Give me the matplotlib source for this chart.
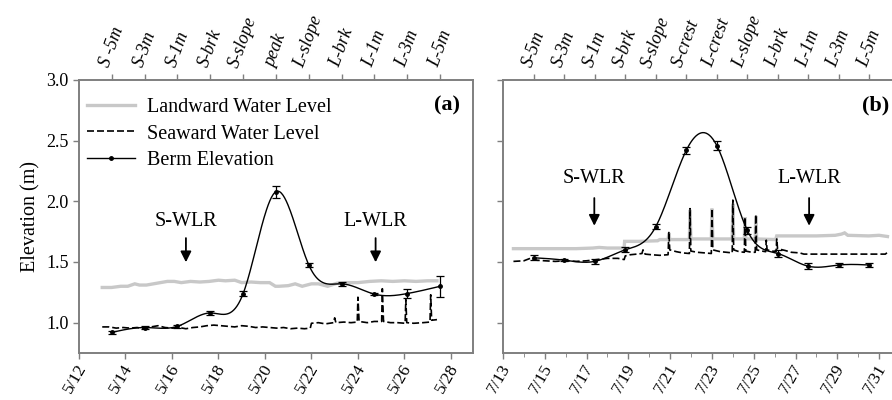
import numpy as np
import matplotlib
matplotlib.use("Agg")
import matplotlib.pyplot as plt
from matplotlib.transforms import ScaledTranslation

plt.rcParams['font.family'] = ['Liberation Serif', 'DejaVu Serif']

# ---------- data ----------
# profile positions (top axis) and berm elevation
pos_a = ["S -5m", "S-3m", "S-1m", "S-brk", "S-slope", "peak", "L-slope", "L-brk", "L-1m", "L-3m", "L-5m"]
berm_a = [0.92, 0.96, 0.97, 1.08, 1.24, 2.08, 1.475, 1.32, 1.235, 1.24, 1.30]
berm_a_err = [0.01, 0.01, 0.01, 0.015, 0.02, 0.05, 0.015, 0.015, 0.01, 0.04, 0.085]

pos_b = ["S-5m", "S-3m", "S-1m", "S-brk", "S-slope", "S-crest", "L-crest", "L-slope", "L-brk", "L-1m", "L-3m", "L-5m"]
berm_b = [1.535, 1.515, 1.505, 1.60, 1.79, 2.42, 2.46, 1.76, 1.57, 1.465, 1.475, 1.475]
berm_b_err = [0.02, 0.01, 0.02, 0.02, 0.02, 0.03, 0.04, 0.03, 0.03, 0.025, 0.015, 0.02]

# water levels, panel (a), day of May
land_a_t = [13.0, 13.4, 13.8, 14.1, 14.4, 14.6, 14.9, 15.2, 15.5, 15.8, 16.1, 16.4, 16.8, 17.2,
            17.6, 18.0, 18.3, 18.7, 19.0, 19.4, 19.8, 20.2, 20.45, 20.6, 21.0, 21.3, 21.6, 22.0,
            22.3, 22.7, 23.1, 23.5, 24.0, 24.5, 25.0, 25.5, 26.0, 26.5, 27.0, 27.4]
land_a_v = [1.29, 1.29, 1.30, 1.30, 1.32, 1.31, 1.31, 1.32, 1.33, 1.34, 1.34, 1.33, 1.34, 1.335,
            1.34, 1.35, 1.345, 1.35, 1.33, 1.335, 1.33, 1.33, 1.30, 1.30, 1.305, 1.32, 1.30, 1.32,
            1.32, 1.30, 1.325, 1.33, 1.33, 1.34, 1.345, 1.34, 1.345, 1.34, 1.345, 1.345]

sea_a_t = [13.0, 13.3, 13.6, 13.9, 14.2, 14.5, 14.8, 15.1, 15.4, 15.7, 16.0, 16.3, 16.6, 16.9,
           17.2, 17.5, 17.8, 18.1, 18.4, 18.7, 19.0, 19.3, 19.6, 19.9, 20.2, 20.5, 20.8, 21.1,
           21.4, 21.7, 21.95, 22.0, 22.3, 22.6, 22.95, 23.0, 23.05, 23.4, 23.7, 23.97, 24.0, 24.05,
           24.4, 24.7, 25.02, 25.05, 25.1, 25.4, 25.7, 26.03, 26.06, 26.1, 26.4, 26.8, 27.1, 27.13,
           27.17, 27.4]
sea_a_v = [0.965, 0.965, 0.955, 0.96, 0.955, 0.96, 0.95, 0.965, 0.975, 0.96, 0.955, 0.96, 0.95, 0.96,
           0.965, 0.975, 0.98, 0.975, 0.97, 0.965, 0.975, 0.97, 0.96, 0.965, 0.96, 0.955, 0.96, 0.95,
           0.955, 0.95, 0.955, 0.995, 1.0, 0.99, 1.0, 1.04, 1.0, 1.005, 1.0, 1.005, 1.21, 1.01,
           1.0, 1.01, 1.01, 1.28, 1.01, 1.0, 1.0, 0.995, 1.19, 1.0, 0.995, 1.0, 1.005, 1.23,
           1.02, 1.025]

# water levels, panel (b), day of July
land_b_t = [13.5, 15.0, 16.5, 17.3, 17.6, 18.0, 18.8, 18.82, 19.5, 20.4, 20.5, 20.9, 20.94, 20.98,
            21.92, 21.95, 21.99, 22.97, 23.0, 23.04, 23.97, 24.0, 24.04, 24.55, 24.58, 24.62, 25.07,
            25.1, 25.14, 26.05, 26.1, 27.0, 28.0, 28.9, 29.2, 29.35, 29.5, 30.5, 31.0, 31.4]
land_b_v = [1.61, 1.61, 1.61, 1.615, 1.62, 1.615, 1.615, 1.67, 1.67, 1.675, 1.685, 1.685, 1.74, 1.685,
            1.685, 1.93, 1.69, 1.69, 1.94, 1.69, 1.69, 1.98, 1.69, 1.69, 1.87, 1.69, 1.69,
            1.88, 1.69, 1.685, 1.715, 1.715, 1.715, 1.72, 1.73, 1.74, 1.72, 1.715, 1.72, 1.71]

sea_b_t = [13.5, 14.0, 14.3, 14.6, 15.0, 15.5, 16.0, 16.5, 17.0, 17.5, 18.0, 18.5, 18.8, 18.85,
           19.1, 19.4, 19.65, 19.7, 19.8, 20.1, 20.5, 20.9, 20.94, 20.98, 21.3, 21.6, 21.92, 21.95,
           21.99, 22.3, 22.65, 22.97, 23.0, 23.04, 23.4, 23.7, 23.97, 24.0, 24.04, 24.3, 24.55, 24.58,
           24.62, 24.9, 25.07, 25.1, 25.14, 25.4, 25.57, 25.6, 25.64, 25.9, 26.07, 26.1, 26.14, 26.5,
           26.8, 27.2, 27.4, 28.0, 29.0, 30.0, 31.0, 31.3, 31.4]
sea_b_v = [1.505, 1.51, 1.53, 1.515, 1.51, 1.505, 1.51, 1.505, 1.51, 1.52, 1.53, 1.53, 1.52, 1.55,
           1.56, 1.565, 1.57, 1.60, 1.565, 1.56, 1.555, 1.56, 1.75, 1.60, 1.585, 1.575, 1.57, 1.94,
           1.59, 1.58, 1.575, 1.57, 1.94, 1.60, 1.585, 1.58, 1.575, 2.01, 1.60, 1.585, 1.58, 1.87,
           1.59, 1.58, 1.58, 1.89, 1.60, 1.59, 1.585, 1.68, 1.60, 1.59, 1.585, 1.69, 1.61, 1.595,
           1.58, 1.575, 1.565, 1.565, 1.565, 1.565, 1.565, 1.565, 1.58]

date_ticks_a = [12, 14, 16, 18, 20, 22, 24, 26, 28]
date_ticks_b = [13, 15, 17, 19, 21, 23, 25, 27, 29, 31]

GRAY = "#7f7f7f"
LAND = "#c8c8c8"
DASH = (0, (4.2, 1.8))


def natural_spline(x, y, n=400):
    x = np.asarray(x, float); y = np.asarray(y, float)
    m = len(x); h = np.diff(x)
    A = np.zeros((m, m)); r = np.zeros(m)
    A[0, 0] = A[-1, -1] = 1
    for i in range(1, m - 1):
        A[i, i - 1] = h[i - 1]; A[i, i] = 2 * (h[i - 1] + h[i]); A[i, i + 1] = h[i]
        r[i] = 6 * ((y[i + 1] - y[i]) / h[i] - (y[i] - y[i - 1]) / h[i - 1])
    M = np.linalg.solve(A, r)
    xs = np.linspace(x[0], x[-1], n)
    k = np.clip(np.searchsorted(x, xs) - 1, 0, m - 2)
    hk = h[k]; a = x[k + 1] - xs; b = xs - x[k]
    ys = (M[k] * a ** 3 + M[k + 1] * b ** 3) / (6 * hk) \
        + (y[k] / hk - M[k] * hk / 6) * a + (y[k + 1] / hk - M[k + 1] * hk / 6) * b
    return xs, ys


def style(ax):
    for s in ax.spines.values():
        s.set_color(GRAY); s.set_linewidth(1.2)
    ax.tick_params(colors=GRAY, labelcolor="black", direction="out", length=4, width=1.0, labelsize=13)


fig = plt.figure(figsize=(8.92, 4.0), dpi=100)
ax_a = fig.add_axes([79 / 892, 0.1175, 394 / 892, 0.6825])
ax_b = fig.add_axes([503 / 892, 0.1175, 397 / 892, 0.6825])

panels = [
    (ax_a, land_a_t, land_a_v, sea_a_t, sea_a_v, pos_a, berm_a, berm_a_err, (12, 28.95), date_ticks_a, "5/", 12, "(a)",
     0.967, (16.6, 24.76), (1.836, 1.72, 1.475)),
    (ax_b, land_b_t, land_b_v, sea_b_t, sea_b_v, pos_b, berm_b, berm_b_err, (13, 32.0), date_ticks_b, "7/", 13, "(b)",
     0.972, (17.37, 27.65), (2.185, 2.05, 1.776)),
]

shift_left = ScaledTranslation(-4 / 100, 0, fig.dpi_scale_trans)

for (ax, lt, lv, st, sv, pos, berm, err, xlim, dticks, mon, top_max, tag, tag_x, arrow_x, arrow_y) in panels:
    ax.plot(lt, lv, color=LAND, lw=2.4, label="Landward Water Level", solid_joinstyle="miter")
    ax.plot(st, sv, color="black", lw=1.2, linestyle=DASH, label="Seaward Water Level")
    ax.set_xlim(*xlim)
    ax.set_ylim(0.75, 3.0)
    ax.set_xticks(dticks)
    ax.set_xticklabels([f"{mon}{d}" for d in dticks], rotation=60, fontsize=12.5)
    style(ax)
    ax.tick_params(axis="x", labelsize=12.5, pad=2)
    for lab in ax.get_xticklabels():
        lab.set_transform(lab.get_transform() + shift_left)

    top = ax.twiny()
    top.set_xlim(0, top_max)
    px = np.arange(1, len(pos) + 1)
    xs, ys = natural_spline(px, berm)
    top.plot(xs, ys, color="black", lw=1.0)
    top.errorbar(px, berm, yerr=err, fmt="o", color="black", ms=2.5, elinewidth=0.9, capsize=3, capthick=0.9)
    top.set_xticks(px)
    top.set_xticklabels(pos, rotation=70, fontstyle="italic")
    style(top)
    top.tick_params(labelsize=13)

    ax.text(tag_x, 0.905, tag, transform=ax.transAxes, ha="right", va="center", fontsize=16, fontweight="bold")
    for x, lab in zip(arrow_x, ["S-WLR", "L-WLR"]):
        ax.text(x, arrow_y[0], lab, ha="center", va="center", fontsize=14.5)
        ax.annotate("", xy=(x, arrow_y[2]), xytext=(x, arrow_y[1]),
                    arrowprops=dict(arrowstyle="-|>", color="black", lw=1.3, mutation_scale=16))

ax_b.set_yticks([1.0, 1.5, 2.0, 2.5, 3.0])
ax_b.set_yticklabels([])
ax_b.spines["right"].set_visible(False)
ax_a.set_yticks([1.0, 1.5, 2.0, 2.5, 3.0])
ax_a.set_yticklabels(["1.0", "1.5", "2.0", "2.5", "3.0"])
ax_a.set_ylabel("Elevation (m)", fontsize=14.5)
ax_b.xaxis.set_minor_locator(matplotlib.ticker.MultipleLocator(1))
ax_b.tick_params(which="minor", direction="out", length=3, color=GRAY)

# legend (berm handle from a proxy line with a marker)
h1, l1 = ax_a.get_legend_handles_labels()
berm_handle = matplotlib.lines.Line2D([], [], color="black", lw=1.0, marker="o", ms=2.5)
ax_a.legend(h1 + [berm_handle], l1 + ["Berm Elevation"], loc="upper left", bbox_to_anchor=(0.02, 0.933),
            frameon=False, fontsize=14.5, handlelength=2.4, handletextpad=0.6, labelspacing=0.35,
            borderpad=0, borderaxespad=0)

fig.savefig("out.png", dpi=100)
